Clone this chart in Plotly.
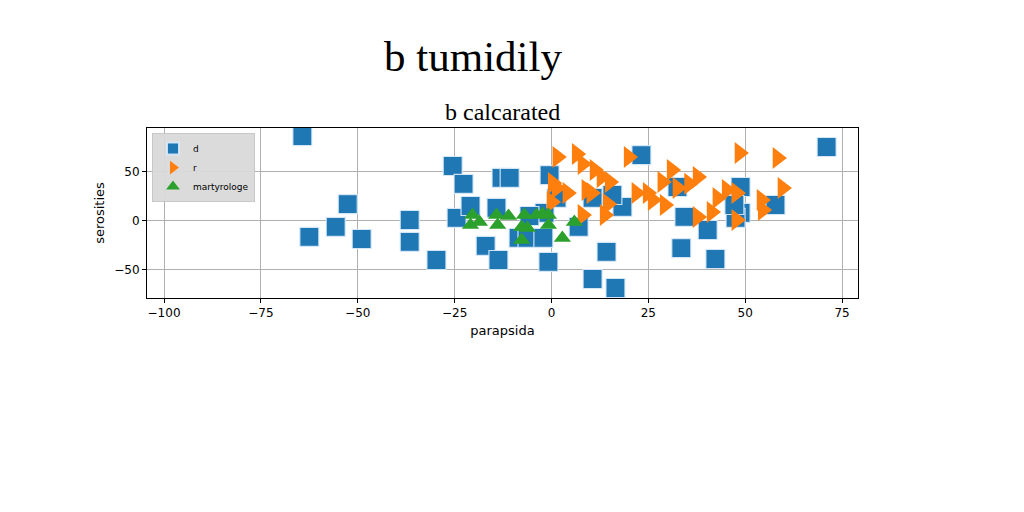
import plotly.graph_objects as go

# ---- data ----
d_x = [-64.3, -62.5, -55.7, -52.6, -49.0, -36.6, -36.6, -29.7, -25.5, -22.7,
       -24.5, -20.9, -17.0, -13.7, -14.2, -12.9, -10.8, -8.5, -6.2, -2.1,
       -0.8, -1.8, -5.7, -0.5, 1.3, 7.0, 10.6, 14.2, 10.6, 16.5,
       18.3, 15.7, 23.2, 33.5, 34.3, 32.5, 71.0, 48.8, 48.8, 47.5,
       40.3, 42.3, 57.8, 47.2]
d_y = [86.7, -16.3, -6.1, 17.3, -18.4, 1.0, -21.4, -39.8, 56.1, 37.8,
       3.1, 15.3, -25.5, -39.8, 13.3, 43.9, 43.9, -17.3, -17.3, -17.3,
       -41.8, 8.2, 5.1, 46.9, 23.5, -6.1, 23.5, -31.6, -59.2, -68.4,
       14.3, 26.5, 67.3, -27.6, 4.1, 34.7, 75.5, 34.7, 8.2, 3.1,
       -9.2, -38.8, 16.3, 16.3]

r_x = [1.5, 6.5, 8.0, 11.1, 12.9, 0.3, 1.3, 4.1, 0.0, 9.0,
       10.3, 14.5, 15.0, 13.7, 8.0, 19.9, 21.9, 24.8, 26.1, 28.6,
       29.2, 31.0, 32.5, 35.5, 48.5, 58.3, 59.6, 37.7, 45.2, 47.7,
       42.8, 54.2, 54.5, 41.3, 37.7, 47.7]
r_y = [65.3, 68.4, 58.2, 52.0, 44.9, 38.8, 33.7, 28.6, 19.4, 31.6,
       28.6, 17.3, 39.8, 6.1, 6.1, 65.3, 28.6, 28.6, 21.4, 39.8,
       16.3, 52.0, 33.7, 38.0, 69.4, 64.3, 33.7, 44.9, 31.6, 28.6,
       23.5, 21.4, 11.2, 9.2, 4.1, 1.0]

m_x = [-20.4, -20.9, -18.6, -14.2, -13.9, -11.1, -7.0, -7.7, -6.2, -7.7,
       -3.9, -2.3, -0.8, -0.8, 5.9, 2.8]
m_y = [6.1, -4.1, -1.0, 6.1, -4.1, 5.1, 6.1, -6.1, -7.1, -19.4,
       6.1, 7.1, 6.1, -4.1, -1.0, -17.3]

x_ticks = [-100, -75, -50, -25, 0, 25, 50, 75]
y_ticks = [-50, 0, 50]

# plot area in page pixels (page has an 8px body offset)
L, T, W, H = 139, 120, 711, 170

fig = go.Figure()
fig.add_trace(go.Scatter(
    x=d_x, y=d_y, mode="markers", name="d",
    marker=dict(symbol="square", size=19, color="#1f77b4",
                line=dict(color="rgba(220,235,250,0.9)", width=1.2))))
fig.add_trace(go.Scatter(
    x=r_x, y=r_y, mode="markers", name="r",
    marker=dict(symbol="triangle-right", size=19, color="#ff7f0e",
                line=dict(width=0))))
fig.add_trace(go.Scatter(
    x=m_x, y=m_y, mode="markers", name="martyrologe",
    marker=dict(symbol="triangle-up", size=15, color="#2ca02c",
                line=dict(width=0))))

axis_common = dict(
    showgrid=True, gridcolor="#b0b0b0", gridwidth=1,
    zeroline=False, showline=True, linecolor="black", linewidth=1,
    mirror=True, ticks="outside", ticklen=4, tickcolor="black",
    tickfont=dict(family="DejaVu Sans", size=12, color="black"),
)

fig.update_layout(
    width=1024, height=512,
    margin=dict(l=L, r=1024 - L - W, t=T, b=512 - T - H),
    paper_bgcolor="white", plot_bgcolor="white",
    showlegend=True,
    legend=dict(x=0.007, y=0.97, xanchor="left", yanchor="top",
                bgcolor="rgba(217,217,217,0.95)", bordercolor="#c8c8c8",
                borderwidth=1, font=dict(family="DejaVu Sans", size=9, color="black"),
                itemsizing="constant", tracegroupgap=0, itemwidth=30),
    xaxis=dict(range=[-104.4, 79.1], tickvals=x_ticks,
               title=dict(text="parapsida", font=dict(family="DejaVu Sans", size=13, color="black"), standoff=6),
               **axis_common),
    yaxis=dict(range=[-78.6, 94.9], tickvals=y_ticks,
               title=dict(text="serosities", font=dict(family="DejaVu Sans", size=13, color="black"), standoff=6),
               **axis_common),
    annotations=[
        dict(text="b tumidily", xref="paper", yref="paper", x=(473 - 8 - L) / W, y=(T + H - (57 - 8)) / H,
             xanchor="center", yanchor="middle", showarrow=False,
             font=dict(family="Liberation Serif", size=43, color="black")),
        dict(text="b calcarated", xref="paper", yref="paper", x=0.5, y=(T + H - (112 - 8)) / H,
             xanchor="center", yanchor="middle", showarrow=False,
             font=dict(family="Liberation Serif", size=24, color="black")),
    ],
)

fig.write_html("out.html")
